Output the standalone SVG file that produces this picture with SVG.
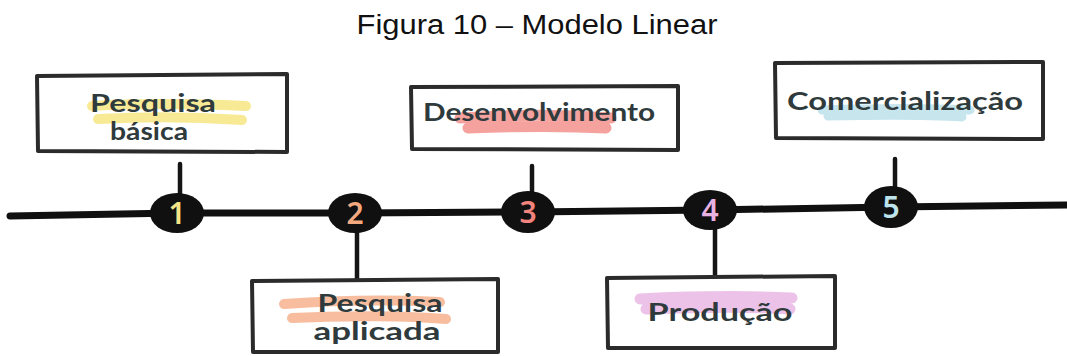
<svg xmlns="http://www.w3.org/2000/svg" width="1067" height="356" viewBox="0 0 1067 356">
<style>
.box{fill:#fff;stroke:#2b2b2b;stroke-width:4;stroke-linejoin:round;stroke-linecap:round}
.lbl{font-family:Lato,"Noto Sans",sans-serif;font-weight:700;font-size:25px;fill:#2f3a3c;text-anchor:middle}
.num{font-family:"Noto Sans",Lato,sans-serif;font-weight:600;font-size:30px;text-anchor:middle}
.dot{fill:#101010}
.line{fill:none;stroke:#101010;stroke-width:7;stroke-linecap:round;stroke-linejoin:round}
.stem{fill:none;stroke:#151515;stroke-width:4.5;stroke-linecap:round}
.hl{fill:none;stroke-linecap:round;stroke-linejoin:round;opacity:0.8}
.title{font-family:"Liberation Sans",Arial,sans-serif;font-size:27px;fill:#111;text-anchor:middle}
</style>
<rect width="1067" height="356" fill="#fff"/>
<text class="title" x="537" y="34" textLength="361" lengthAdjust="spacingAndGlyphs">Figura 10 – Modelo Linear</text>

<g id="connectors">
<polyline class="line" points="10,216 177,213 355,213 528,212 710,210 891,207 1067,205"/>
<line class="stem" x1="180" y1="164" x2="180" y2="196"/>
<line class="stem" x1="357" y1="232" x2="357" y2="279"/>
<line class="stem" x1="532" y1="166" x2="532" y2="194"/>
<line class="stem" x1="715" y1="229" x2="715" y2="276"/>
<line class="stem" x1="895" y1="159" x2="895" y2="190"/>
</g>

<g id="node-1">
<path class="box" d="M37,76 L287,74 L287,152 L38,151 Z"/>
<path class="hl" stroke="#f6e57a" stroke-width="10" d="M92,106 C140,103 200,104 246,106 M98,119 C150,116 200,117 242,120"/>
<text class="lbl" x="153" y="112" textLength="126" lengthAdjust="spacingAndGlyphs">Pesquisa</text>
<text class="lbl" x="149" y="140" textLength="78" lengthAdjust="spacingAndGlyphs">básica</text>
<ellipse class="dot" cx="177" cy="213" rx="27" ry="20"/>
<text class="num" x="177" y="224" fill="#f3e489">1</text>
</g>

<g id="node-2">
<path class="box" d="M252,281 L498,279 L498,352 L253,352 Z"/>
<path class="hl" stroke="#f5ad86" stroke-width="10" d="M284,304 C340,300 400,300 440,302 M292,318 C350,315 410,316 446,319"/>
<text class="lbl" x="380" y="312" textLength="125" lengthAdjust="spacingAndGlyphs">Pesquisa</text>
<text class="lbl" x="377" y="340" textLength="127" lengthAdjust="spacingAndGlyphs">aplicada</text>
<ellipse class="dot" cx="355" cy="213" rx="27" ry="20"/>
<text class="num" x="355" y="224" fill="#f4a97f">2</text>
</g>

<g id="node-3">
<path class="box" d="M411,87 L678,86 L678,150 L412,149 Z"/>
<path class="hl" stroke="#f28a85" stroke-width="11" d="M460,118 C520,114 570,115 611,118 M468,128 C520,126 570,126 606,128"/>
<text class="lbl" x="539" y="121" textLength="232" lengthAdjust="spacingAndGlyphs">Desenvolvimento</text>
<ellipse class="dot" cx="528" cy="212" rx="27" ry="21"/>
<text class="num" x="528" y="223" fill="#f2837d">3</text>
</g>

<g id="node-4">
<path class="box" d="M607,278 L835,276 L835,348 L608,348 Z"/>
<path class="hl" stroke="#e8b3e3" stroke-width="11" d="M640,299 C700,296 750,296 792,298 M646,309 C700,307 760,307 790,309"/>
<text class="lbl" x="720" y="321" textLength="145" lengthAdjust="spacingAndGlyphs">Produção</text>
<ellipse class="dot" cx="710" cy="210" rx="27" ry="20"/>
<text class="num" x="710" y="221" fill="#e7b1e2">4</text>
</g>

<g id="node-5">
<path class="box" d="M775,63 L1043,62 L1043,139 L776,138 Z"/>
<path class="hl" stroke="#b8dfe8" stroke-width="9" d="M822,110 C880,108 930,108 970,110 M828,116 C880,115 930,115 962,117"/>
<text class="lbl" x="905" y="110" textLength="236" lengthAdjust="spacingAndGlyphs">Comercialização</text>
<ellipse class="dot" cx="891" cy="207" rx="27" ry="21"/>
<text class="num" x="891" y="218" fill="#bde3ec">5</text>
</g>
</svg>
